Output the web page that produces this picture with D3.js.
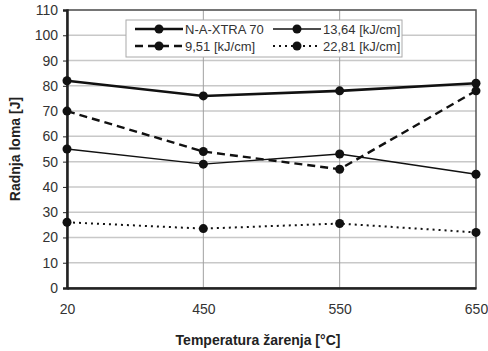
<!DOCTYPE html>
<html>
<head>
<meta charset="utf-8">
<script src="https://cdn.jsdelivr.net/npm/d3@7"></script>
<style>
  body { margin: 0; background: #fff; }
  text { font-family: "Liberation Sans", Arial, sans-serif; }
</style>
</head>
<body>
<div id="chart"></div>
<script>
// data
const temps = ["20", "450", "550", "650"];
const yTicks = [0, 10, 20, 30, 40, 50, 60, 70, 80, 90, 100, 110];
const seriesNames = ["N-A-XTRA 70", "9,51 [kJ/cm]", "13,64 [kJ/cm]", "22,81 [kJ/cm]"];
const nAXtra = [82, 76, 78, 81];
const kj951 = [70, 54, 47, 78];
const kj1364 = [55, 49, 53, 45];
const kj2281 = [26, 23.5, 25.5, 22];

const width = 488, height = 351;
const margin = { top: 10, right: 12, bottom: 63, left: 67 };
const w = width - margin.left - margin.right;
const h = height - margin.top - margin.bottom;

const svg = d3.select("#chart").append("svg")
  .attr("width", width)
  .attr("height", height);

const g = svg.append("g")
  .attr("transform", "translate(" + margin.left + "," + margin.top + ")");

const x = d3.scalePoint().domain(temps).range([0, w]);
const y = d3.scaleLinear().domain([0, 110]).range([h, 0]);

// horizontal grid
g.append("g")
  .selectAll("line")
  .data(yTicks)
  .enter().append("line")
  .attr("x1", 0).attr("x2", w)
  .attr("y1", d => y(d)).attr("y2", d => y(d))
  .attr("stroke", "#c8c8c8")
  .attr("stroke-width", 1.5);

// vertical grid
g.append("g")
  .selectAll("line")
  .data(temps.slice(1, -1))
  .enter().append("line")
  .attr("x1", d => x(d)).attr("x2", d => x(d))
  .attr("y1", 0).attr("y2", h)
  .attr("stroke", "#a0a0a0")
  .attr("stroke-width", 1);

// plot border
g.append("rect")
  .attr("x", 0).attr("y", 0)
  .attr("width", w).attr("height", h)
  .attr("fill", "none")
  .attr("stroke", "#555")
  .attr("stroke-width", 1.5);

// y axis
const yAxis = g.append("g")
  .call(d3.axisLeft(y).tickValues(yTicks).tickSize(4).tickPadding(5));
yAxis.select(".domain").attr("stroke", "#222").attr("stroke-width", 2.5);
yAxis.selectAll(".tick line").attr("stroke", "#222");
yAxis.selectAll("text").attr("font-size", 14).attr("fill", "#333");

// x axis
const xAxis = g.append("g")
  .attr("transform", "translate(0," + h + ")")
  .call(d3.axisBottom(x).tickSize(0).tickPadding(16));
xAxis.select(".domain").attr("stroke", "#222").attr("stroke-width", 2.5);
xAxis.selectAll("text").attr("font-size", 14).attr("fill", "#333");

// axis titles
svg.append("text")
  .attr("x", 258).attr("y", 345)
  .attr("text-anchor", "middle")
  .attr("font-size", 14).attr("font-weight", "bold").attr("fill", "#222")
  .text("Temperatura žarenja [°C]");

svg.append("text")
  .attr("transform", "translate(20," + (margin.top + h / 2) + ") rotate(-90)")
  .attr("text-anchor", "middle")
  .attr("font-size", 14).attr("font-weight", "bold").attr("fill", "#222")
  .text("Radnja loma [J]");

const series = [
  { name: seriesNames[0], values: nAXtra, sw: 2.6, dash: null },
  { name: seriesNames[1], values: kj951, sw: 2.4, dash: "8,5" },
  { name: seriesNames[2], values: kj1364, sw: 1.4, dash: null },
  { name: seriesNames[3], values: kj2281, sw: 2, dash: "2,4" }
];

const line = d3.line()
  .x((d, i) => x(temps[i]))
  .y(d => y(d));

series.forEach(s => {
  g.append("path")
    .datum(s.values)
    .attr("d", line)
    .attr("fill", "none")
    .attr("stroke", "#111")
    .attr("stroke-width", s.sw)
    .attr("stroke-dasharray", s.dash);
  g.selectAll(null)
    .data(s.values)
    .enter().append("circle")
    .attr("cx", (d, i) => x(temps[i]))
    .attr("cy", d => y(d))
    .attr("r", 4.5)
    .attr("fill", "#111");
});

// legend
const leg = svg.append("g").attr("transform", "translate(126,20)");
leg.append("rect")
  .attr("width", 276).attr("height", 37)
  .attr("fill", "#fff")
  .attr("stroke", "#aaa")
  .attr("stroke-width", 1);

const legPos = [[9, 9], [9, 26], [147, 9], [147, 26]];
series.forEach((s, i) => {
  const [lx, ly] = legPos[i];
  leg.append("line")
    .attr("x1", lx).attr("x2", lx + 48)
    .attr("y1", ly).attr("y2", ly)
    .attr("stroke", "#111")
    .attr("stroke-width", s.sw)
    .attr("stroke-dasharray", s.dash);
  leg.append("circle")
    .attr("cx", lx + 24).attr("cy", ly)
    .attr("r", 4.5).attr("fill", "#111");
  leg.append("text")
    .attr("x", lx + 50).attr("y", ly + 4.5)
    .attr("font-size", 13).attr("fill", "#333")
    .text(s.name);
});
</script>
</body>
</html>
